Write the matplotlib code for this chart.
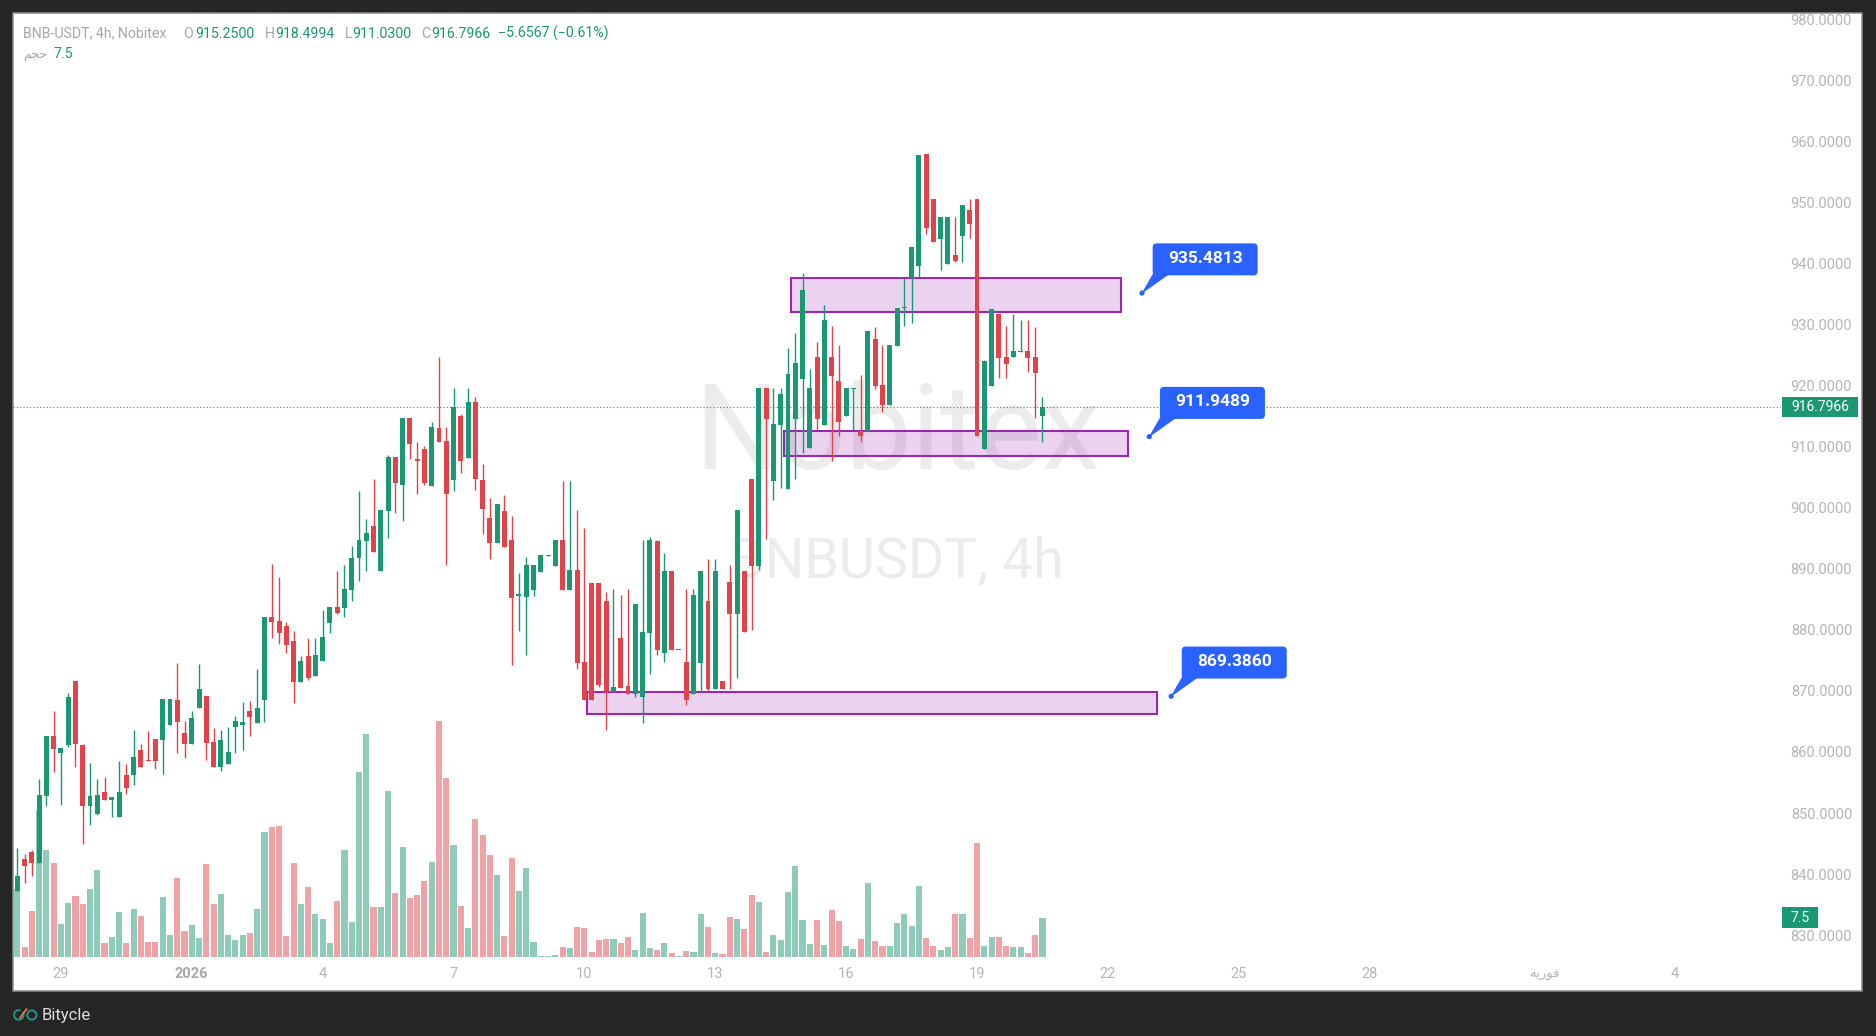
import matplotlib
matplotlib.use("Agg")
import matplotlib.pyplot as plt
import matplotlib.transforms as mtrans
from matplotlib.patches import Rectangle, FancyBboxPatch, Polygon, Circle, Arc
import numpy as np
import pandas as pd

# ---------------- data (BNB-USDT, 4h, Nobitex) ----------------
opens = [837.5, 842.7, 843.9, 842.1, 853.1, 862.9, 860.0, 861.4, 871.9, 861.4,
         851.4, 850.1, 853.7, 852.3, 849.6, 856.5, 856.4, 860.6, 859.0, 862.4,
         862.2, 864.6, 868.8, 863.4, 861.5, 867.5, 869.4, 861.9, 857.8, 858.2,
         864.4, 864.7, 867.0, 865.05, 868.8, 882.4, 881.7, 880.9, 878.5, 871.7,
         876.0, 872.7, 875.1, 881.4, 884.0, 883.9, 886.8, 892.1, 894.9, 897.3,
         889.95, 899.8, 908.6, 904.0, 915.0, 908.2, 909.9, 903.9, 913.3, 911.3,
         904.9, 915.35, 908.5, 917.6, 904.8, 898.6, 894.5, 899.8, 895.0, 885.9,
         885.7, 886.8, 889.75, 892.4, 890.7, 895.0, 886.8, 890.1, 875.0, 887.9,
         887.9, 885.0, 870.1, 878.9, 871.06, 869.8, 869.3, 879.8, 894.8, 876.5,
         889.9, 876.9, 875.0, 869.8, 874.9, 885.0, 870.6, 871.9, 888.1, 882.8,
         889.9, 905.0, 890.8, 919.9, 904.6, 913.9, 903.4, 914.9, 921.4, 910.0,
         925.0, 913.9, 925.0, 921.0, 915.4, 919.8, 912.9, 912.9, 927.9, 920.4,
         917.2, 926.8, 933.0, 937.9, 939.9, 958.3, 950.9, 944.3, 940.2, 941.7,
         944.9, 949.1, 950.9, 909.95, 920.3, 932.1, 925.0, 925.07, 925.8, 926.0,
         925.0, 915.25]
highs = [844.5, 843.6, 844.2, 855.8, 862.9, 867.0, 860.9, 869.9, 871.9, 861.6,
         858.4, 855.8, 856.1, 852.9, 858.8, 858.3, 863.9, 861.6, 863.7, 862.4,
         868.9, 868.9, 874.8, 865.3, 867.0, 874.7, 869.4, 864.2, 863.9, 864.4,
         866.1, 868.4, 868.6, 873.9, 882.4, 891.1, 889.0, 881.6, 880.1, 876.0,
         878.9, 878.9, 883.5, 884.0, 889.95, 890.9, 894.0, 903.0, 898.4, 905.0,
         899.9, 908.9, 908.6, 915.0, 915.0, 911.1, 910.4, 914.4, 925.0, 913.5,
         919.9, 915.7, 919.9, 918.5, 907.4, 901.9, 900.9, 902.4, 899.0, 889.6,
         892.2, 890.9, 892.5, 892.5, 895.0, 904.7, 904.7, 899.9, 897.0, 887.9,
         887.9, 886.5, 887.0, 886.0, 887.0, 884.5, 895.0, 895.5, 895.0, 892.9,
         889.9, 877.0, 887.0, 887.0, 889.9, 891.9, 891.9, 871.9, 890.9, 899.9,
         889.9, 905.0, 919.9, 919.9, 919.9, 919.9, 926.5, 929.0, 938.8, 923.0,
         927.5, 933.5, 930.0, 927.0, 919.9, 919.9, 922.0, 929.2, 929.9, 927.0,
         926.96, 933.0, 937.9, 943.0, 958.1, 958.3, 950.9, 948.0, 948.0, 948.0,
         949.9, 950.9, 950.9, 924.5, 932.9, 932.1, 930.1, 932.1, 931.1, 931.1,
         929.9, 918.4994]
lows = [837.5, 838.8, 840.0, 842.1, 851.4, 857.0, 851.6, 861.0, 857.8, 845.2,
        848.3, 850.0, 852.3, 849.6, 849.6, 853.4, 854.9, 857.8, 858.8, 857.5,
        856.7, 864.6, 860.1, 859.3, 861.5, 867.5, 859.0, 857.8, 857.2, 858.2,
        860.0, 860.5, 862.9, 865.05, 865.2, 879.0, 878.0, 876.4, 868.2, 871.7,
        872.0, 872.7, 875.1, 879.8, 882.9, 882.4, 885.0, 888.2, 889.9, 893.0,
        889.95, 895.4, 899.5, 898.1, 908.2, 902.6, 904.0, 903.9, 911.1, 890.9,
        903.0, 906.0, 908.5, 903.2, 896.0, 891.9, 894.5, 893.9, 874.5, 880.1,
        876.1, 885.9, 889.75, 892.4, 890.7, 886.8, 886.8, 873.9, 868.8, 868.8,
        870.9, 863.9, 870.1, 870.8, 869.8, 869.3, 865.0, 873.1, 876.2, 875.0,
        876.9, 876.9, 868.0, 869.8, 870.1, 870.3, 870.6, 870.5, 870.5, 872.3,
        879.9, 880.2, 890.1, 895.1, 901.6, 903.5, 903.4, 905.0, 909.2, 910.0,
        913.1, 913.9, 908.0, 912.1, 915.4, 913.0, 911.0, 912.9, 919.8, 916.0,
        917.2, 926.8, 930.1, 930.5, 938.1, 945.1, 943.8, 939.3, 940.2, 940.5,
        940.5, 944.5, 912.0, 909.95, 920.3, 921.6, 921.6, 925.07, 925.8, 922.6,
        915.0, 911.03]
closes = [839.9, 841.5, 842.1, 853.2, 862.9, 860.8, 860.9, 869.3, 861.6, 851.4,
          853.0, 853.2, 852.3, 852.9, 853.7, 854.4, 859.4, 857.8, 858.8, 858.7,
          868.9, 868.9, 865.2, 861.5, 865.8, 870.6, 861.8, 857.8, 862.2, 860.3,
          865.3, 865.2, 866.0, 867.5, 882.4, 881.6, 879.8, 877.8, 871.7, 875.2,
          872.4, 876.1, 879.1, 884.0, 883.1, 887.0, 892.1, 895.0, 896.2, 893.0,
          899.9, 908.6, 904.3, 915.0, 910.7, 908.0, 904.3, 913.5, 911.1, 902.6,
          916.8, 908.0, 917.6, 905.0, 900.1, 894.5, 900.9, 893.9, 885.5, 886.2,
          890.9, 890.9, 892.5, 892.5, 895.0, 886.8, 890.1, 874.9, 868.8, 868.8,
          871.3, 870.1, 870.9, 870.8, 869.8, 884.5, 879.9, 895.0, 876.9, 889.9,
          876.9, 877.0, 868.8, 886.0, 889.9, 870.6, 889.9, 870.5, 882.8, 899.9,
          879.9, 890.8, 919.9, 914.9, 914.0, 918.9, 922.2, 924.0, 936.0, 919.9,
          914.9, 931.0, 921.9, 914.4, 919.9, 919.9, 912.0, 929.2, 920.2, 917.2,
          926.96, 933.0, 933.2, 943.0, 958.1, 946.1, 943.8, 948.0, 948.0, 940.8,
          949.9, 946.8, 912.0, 924.4, 932.9, 924.9, 923.9, 926.0, 926.0, 924.9,
          922.3, 916.7966]
volumes = [13.0, 1.9, 8.8, 28.2, 20.5, 18.0, 6.3, 10.3, 11.7, 10.1,
           13.0, 16.7, 2.6, 3.8, 8.6, 2.6, 9.2, 7.8, 2.8, 2.9,
           11.5, 4.2, 15.2, 4.9, 6.1, 3.6, 17.9, 10.1, 12.1, 4.2,
           3.2, 4.2, 4.6, 9.2, 24.0, 24.9, 25.1, 4.0, 18.0, 10.2,
           13.4, 8.2, 7.3, 2.7, 10.7, 20.5, 6.7, 35.5, 42.9, 9.6,
           9.6, 31.8, 12.2, 21.1, 11.3, 11.9, 14.6, 18.2, 45.3, 34.3,
           21.5, 9.8, 5.5, 26.5, 23.4, 19.6, 15.7, 4.0, 19.1, 12.7,
           17.1, 2.9, 0.2, 0.2, 0.4, 1.9, 1.7, 5.8, 5.6, 1.0,
           3.3, 3.5, 3.5, 2.7, 3.8, 1.3, 8.5, 1.7, 1.3, 2.7,
           0.8, 0.2, 1.2, 1.0, 8.3, 5.8, 0.7, 0.5, 7.7, 7.3,
           5.4, 11.9, 10.6, 1.0, 4.2, 3.2, 12.4, 17.5, 7.1, 2.5,
           7.1, 2.3, 9.1, 6.9, 2.1, 1.5, 3.4, 14.2, 3.1, 2.1,
           2.1, 6.5, 8.2, 5.9, 13.6, 3.7, 2.1, 1.3, 1.9, 8.2,
           8.2, 3.7, 21.9, 2.2, 3.8, 3.8, 2.1, 1.9, 1.9, 0.8,
           4.2, 7.5]

start_time = "2025-12-28 00:00"
tick_dates = ["2025-12-29", "2026-01-01", "2026-01-04", "2026-01-07", "2026-01-10",
              "2026-01-13", "2026-01-16", "2026-01-19", "2026-01-22", "2026-01-25",
              "2026-01-28", "2026-02-01", "2026-02-04"]
FEB_FA = "\uFEEA\uFBFE\uFEAD\uFEEE\uFED3"   # فوریه (shaped, visual order)
VOL_FA = "\uFEE2\uFEA0\uFEA3"               # حجم (shaped, visual order)
tick_labels = ["29", "2026", "4", "7", "10", "13", "16", "19", "22", "25", "28", FEB_FA, "4"]
price_ticks = [830, 840, 850, 860, 870, 880, 890, 900, 910, 920, 930, 940, 950, 960, 970, 980]

# zones: (low, high, start bar, end bar)
zone_low = [932.4, 908.8, 866.5]
zone_high = [937.9, 912.9, 870.0]
zone_start = [106.4, 105.4, 78.3]
zone_end = [151.8, 152.7, 156.8]
callout_values = [935.4813, 911.9489, 869.3860]
callout_bar = [154.7, 155.7, 158.7]
change_abs = -5.6567
change_pct = -0.61

# ---------------- style ----------------
plt.rcParams['font.family'] = ['Roboto', 'DejaVu Sans']
GREEN = '#199873'
RED = '#e2434b'
VGREEN = '#8ecbb8'
VRED = '#f0a3a7'
BLUE = '#2962ff'
GRAY = '#b5b5b5'
BG = '#252525'

W, H = 1876, 1036
fig = plt.figure(figsize=(W / 100, H / 100), dpi=100)
fig.patch.set_facecolor(BG)
ID = mtrans.IdentityTransform()


def fx(px):
    return px / W


def fy(py):
    return 1 - py / H


panel = Rectangle((fx(13), fy(991)), (1862 - 13) / W, (991 - 13) / H,
                  transform=fig.transFigure, facecolor='white',
                  edgecolor='#8c8c8c', linewidth=1.1, zorder=-10)
fig.add_artist(panel)

L, R, T, B = 13, 1781, 13, 957
pos = [fx(L), fy(B), (R - L) / W, (B - T) / H]
axv = fig.add_axes(pos)
ax = fig.add_axes(pos, sharex=axv)
for a in (axv, ax):
    a.patch.set_visible(False)
    for s in a.spines.values():
        s.set_visible(False)
    a.tick_params(left=False, bottom=False, labelleft=False, labelbottom=False)

o = np.array(opens); h = np.array(highs); l = np.array(lows); c = np.array(closes)
v = np.array(volumes)
n = len(o)
x = np.arange(n)
up = c >= o

ax.set_xlim(-0.59, 242.58)
ax.set_ylim(826.64, 981.39)
axv.set_ylim(0, 943 / 5.2)

# watermark
axv.text(0.5, (B - 469) / (B - T), "Nobitex", transform=axv.transAxes, ha='center',
         va='baseline', fontsize=85, color='#ececec', zorder=0)
axv.text(0.5, (B - 577) / (B - T), "BNBUSDT, 4h", transform=axv.transAxes, ha='center',
         va='baseline', fontsize=40, color='#ececec', zorder=0)

# volume
axv.bar(x, v, width=0.84, color=np.where(up, VGREEN, VRED), linewidth=0, zorder=2)

# zones
for lo, hi, x0, x1 in zip(zone_low, zone_high, zone_start, zone_end):
    ax.add_patch(Rectangle((x0, lo), x1 - x0, hi - lo,
                           facecolor=(156 / 255, 39 / 255, 176 / 255, 0.2),
                           edgecolor='#9c27b0', linewidth=1.5, zorder=2))

# candles
cols = np.where(up, GREEN, RED)
ax.vlines(x, l, h, colors=cols, linewidth=1.0, zorder=3)
body = np.maximum(np.abs(c - o), 0.18)
ax.bar(x, body, bottom=np.minimum(o, c), width=0.68, color=cols, linewidth=0, zorder=4)

# current price line
last = c[-1]
ax.axhline(last, color=GREEN, linewidth=0.8, linestyle=(0, (1, 2)), zorder=6)

fig.canvas.draw()

# price scale labels
for p in price_ticks:
    py = ax.transData.transform((0, p))[1]
    fig.text(1852, py, f"{p:.4f}", transform=ID, ha='right', va='center',
             fontsize=10.5, color=GRAY)

# current price tag
py = ax.transData.transform((0, last))[1]
fig.add_artist(Rectangle((1782, py - 10), 76, 20, transform=ID, facecolor=GREEN,
                         edgecolor='none', zorder=8))
fig.text(1820, py, f"{last:.4f}", transform=ID, ha='center', va='center',
         fontsize=10, color='white', zorder=9)

# volume tag
vy = axv.transData.transform((0, v[-1]))[1]
fig.add_artist(Rectangle((1782, vy - 10.5), 36, 21, transform=ID, facecolor=GREEN,
                         edgecolor='none', zorder=8))
fig.text(1800, vy, f"{v[-1]:.1f}", transform=ID, ha='center', va='center',
         fontsize=10, color='white', zorder=9)

# time axis
t0 = pd.Timestamp(start_time)
step = pd.Timedelta(hours=4)
for d, lab in zip(tick_dates, tick_labels):
    idx = (pd.Timestamp(d) - t0) / step
    px = ax.transData.transform((idx, 0))[0]
    if lab == "2026":
        fig.text(px, H - 974.5, lab, transform=ID, ha='center', va='center',
                 fontsize=10.5, fontweight='bold', color='#a8a8a8')
    elif lab == FEB_FA:
        fig.text(px, H - 974.5, lab, transform=ID, ha='center', va='center',
                 fontsize=9.5, color=GRAY, family=['DejaVu Sans'])
    else:
        fig.text(px, H - 974.5, lab, transform=ID, ha='center', va='center',
                 fontsize=10.5, color=GRAY)

# callouts
for val, xb in zip(callout_values, callout_bar):
    px, py = ax.transData.transform((xb, val))
    bx0, by0 = px + 10.6, py + 17.7
    bw, bh = 105, 32
    fig.add_artist(Polygon([(px + 0.5, py + 0.5), (bx0 + 1, by0 + 2), (bx0 + 17, by0 + 2)],
                           closed=True, transform=ID, facecolor=BLUE, edgecolor=BLUE,
                           linewidth=0.6, zorder=20))
    fig.add_artist(FancyBboxPatch((bx0, by0), bw, bh, boxstyle='round,pad=0,rounding_size=4',
                                  transform=ID, facecolor=BLUE, edgecolor='none', zorder=21))
    fig.add_artist(Circle((px, py), 2.6, transform=ID, facecolor=BLUE, edgecolor='none',
                          zorder=21))
    fig.text(bx0 + bw / 2, by0 + bh / 2 + 1, f"{val:.4f}", transform=ID, ha='center',
             va='center', fontsize=12.5, fontweight='bold', color='white', zorder=22)

# header legend
HG = '#a6a6a6'
HF = 10.2
hy = H - 37.7
fig.text(22.8, hy, "BNB-USDT, 4h, Nobitex", transform=ID, fontsize=HF, color=HG, va='baseline')
pieces = [(183.2, "O", HG), (195.7, f"{o[-1]:.4f}", GREEN),
          (265.3, "H", HG), (275.7, f"{h[-1]:.4f}", GREEN),
          (345.0, "L", HG), (352.4, f"{l[-1]:.4f}", GREEN),
          (421.6, "C", HG), (431.2, f"{c[-1]:.4f}", GREEN),
          (497.5, f"\u2212{abs(change_abs):.4f} (\u2212{abs(change_pct):.2f}%)", GREEN)]
for xp, s, col in pieces:
    fig.text(xp, hy, s, transform=ID, fontsize=HF, color=col, va='baseline')
fig.text(22.8, H - 58.3, VOL_FA, transform=ID, fontsize=9, color=HG, va='baseline',
         family=['DejaVu Sans'])
fig.text(53.9, H - 58.3, f"{v[-1]:.1f}", transform=ID, fontsize=HF, color=GREEN,
         va='baseline')

# footer logo + brand
fig.add_artist(Arc((18.8, H - 1015), 9.5, 9.5, theta1=70, theta2=400, transform=ID,
                   color='#1f9488', linewidth=1.4))
fig.add_artist(Circle((31.8, H - 1015), 4.6, transform=ID, facecolor='none',
                      edgecolor='#1f9488', linewidth=1.4))
fig.add_artist(Polygon([(19.5, H - 1018.5), (27.0, H - 1008.5)], closed=False, transform=ID,
                       edgecolor='#e0703a', facecolor='none', linewidth=1.4))
fig.text(41.7, H - 1020, "Bitycle", transform=ID, fontsize=12, color='#dcdcdc', va='baseline')

fig.savefig("out.png", dpi=100, facecolor=BG)
